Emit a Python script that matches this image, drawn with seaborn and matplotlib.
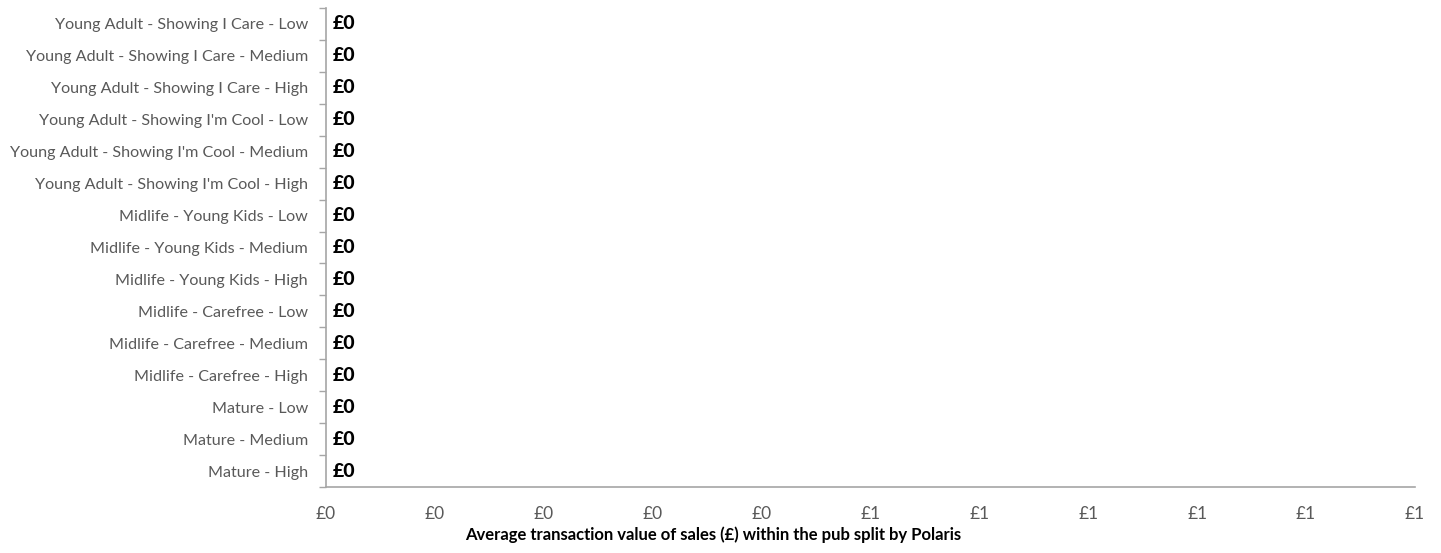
import numpy as np
import pandas as pd
import matplotlib
matplotlib.use("Agg")
import matplotlib.pyplot as plt
from matplotlib.ticker import FixedLocator, FuncFormatter, NullFormatter
import seaborn as sns

segments = [
    "Young Adult - Showing I Care - Low",
    "Young Adult - Showing I Care - Medium",
    "Young Adult - Showing I Care - High",
    "Young Adult - Showing I'm Cool - Low",
    "Young Adult - Showing I'm Cool - Medium",
    "Young Adult - Showing I'm Cool - High",
    "Midlife - Young Kids - Low",
    "Midlife - Young Kids - Medium",
    "Midlife - Young Kids - High",
    "Midlife - Carefree - Low",
    "Midlife - Carefree - Medium",
    "Midlife - Carefree - High",
    "Mature - Low",
    "Mature - Medium",
    "Mature - High",
]
avg_transaction = [0, 0, 0, 0, 0, 0, 0, 0, 0, 0, 0, 0, 0, 0, 0]
x_ticks = [0.0, 0.1, 0.2, 0.3, 0.4, 0.5, 0.6, 0.7, 0.8, 0.9, 1.0]

df = pd.DataFrame({"segment": segments, "value": avg_transaction})

sns.set_theme(style="white")
plt.rcParams["font.family"] = ["Lato", "DejaVu Sans"]

grey_text = "#595959"
axis_grey = "#A6A6A6"

fig = plt.figure(figsize=(14.41, 5.53), dpi=100)
ax = fig.add_axes([326 / 1441, 1 - 487 / 553, (1415 - 326) / 1441, (487 - 8) / 553])

sns.barplot(data=df, x="value", y="segment", orient="h", color="#4472C4", ax=ax)


def gbp(v):
    return f"£{int(np.floor(v + 0.5 + 1e-9)):d}"


for i, v in enumerate(avg_transaction):
    ax.text(v + 0.0065, i, gbp(v), ha="left", va="center",
            fontsize=14, fontweight="black", color="black")

ax.set_xlim(0, 1.0)
ax.set_ylim(len(segments) - 0.5, -0.5)

ax.xaxis.set_major_locator(FixedLocator(x_ticks))
ax.xaxis.set_major_formatter(FuncFormatter(lambda v, p: gbp(v)))

# category labels sit between boundary tick marks
ax.yaxis.set_major_locator(FixedLocator(np.arange(-0.5, len(segments), 1.0)))
ax.yaxis.set_major_formatter(NullFormatter())
ax.yaxis.set_minor_locator(FixedLocator(np.arange(len(segments))))
ax.yaxis.set_minor_formatter(FuncFormatter(lambda v, p: segments[int(round(v))]))

ax.tick_params(axis="x", which="major", direction="out", length=5, width=1,
               color=axis_grey, labelcolor=grey_text, labelsize=12.5, pad=9)
ax.tick_params(axis="y", which="major", direction="out", length=5, width=1,
               color=axis_grey, left=True)
ax.tick_params(axis="y", which="minor", length=0, labelcolor=grey_text,
               labelsize=11.6, pad=13, left=True)

for side in ["top", "right"]:
    ax.spines[side].set_visible(False)
for side in ["left", "bottom"]:
    ax.spines[side].set_visible(True)
    ax.spines[side].set_color(axis_grey)
    ax.spines[side].set_linewidth(1.2)

ax.set_ylabel("")
ax.set_xlabel("Average transaction value of sales (£) within the pub split by Polaris",
              fontsize=12, fontweight="bold", color="black")
ax.xaxis.set_label_coords((713 - 326) / (1415 - 326), -(535 - 487) / (487 - 8))
ax.xaxis.label.set_va("center")

fig.savefig("out.png", dpi=100, facecolor="white")
